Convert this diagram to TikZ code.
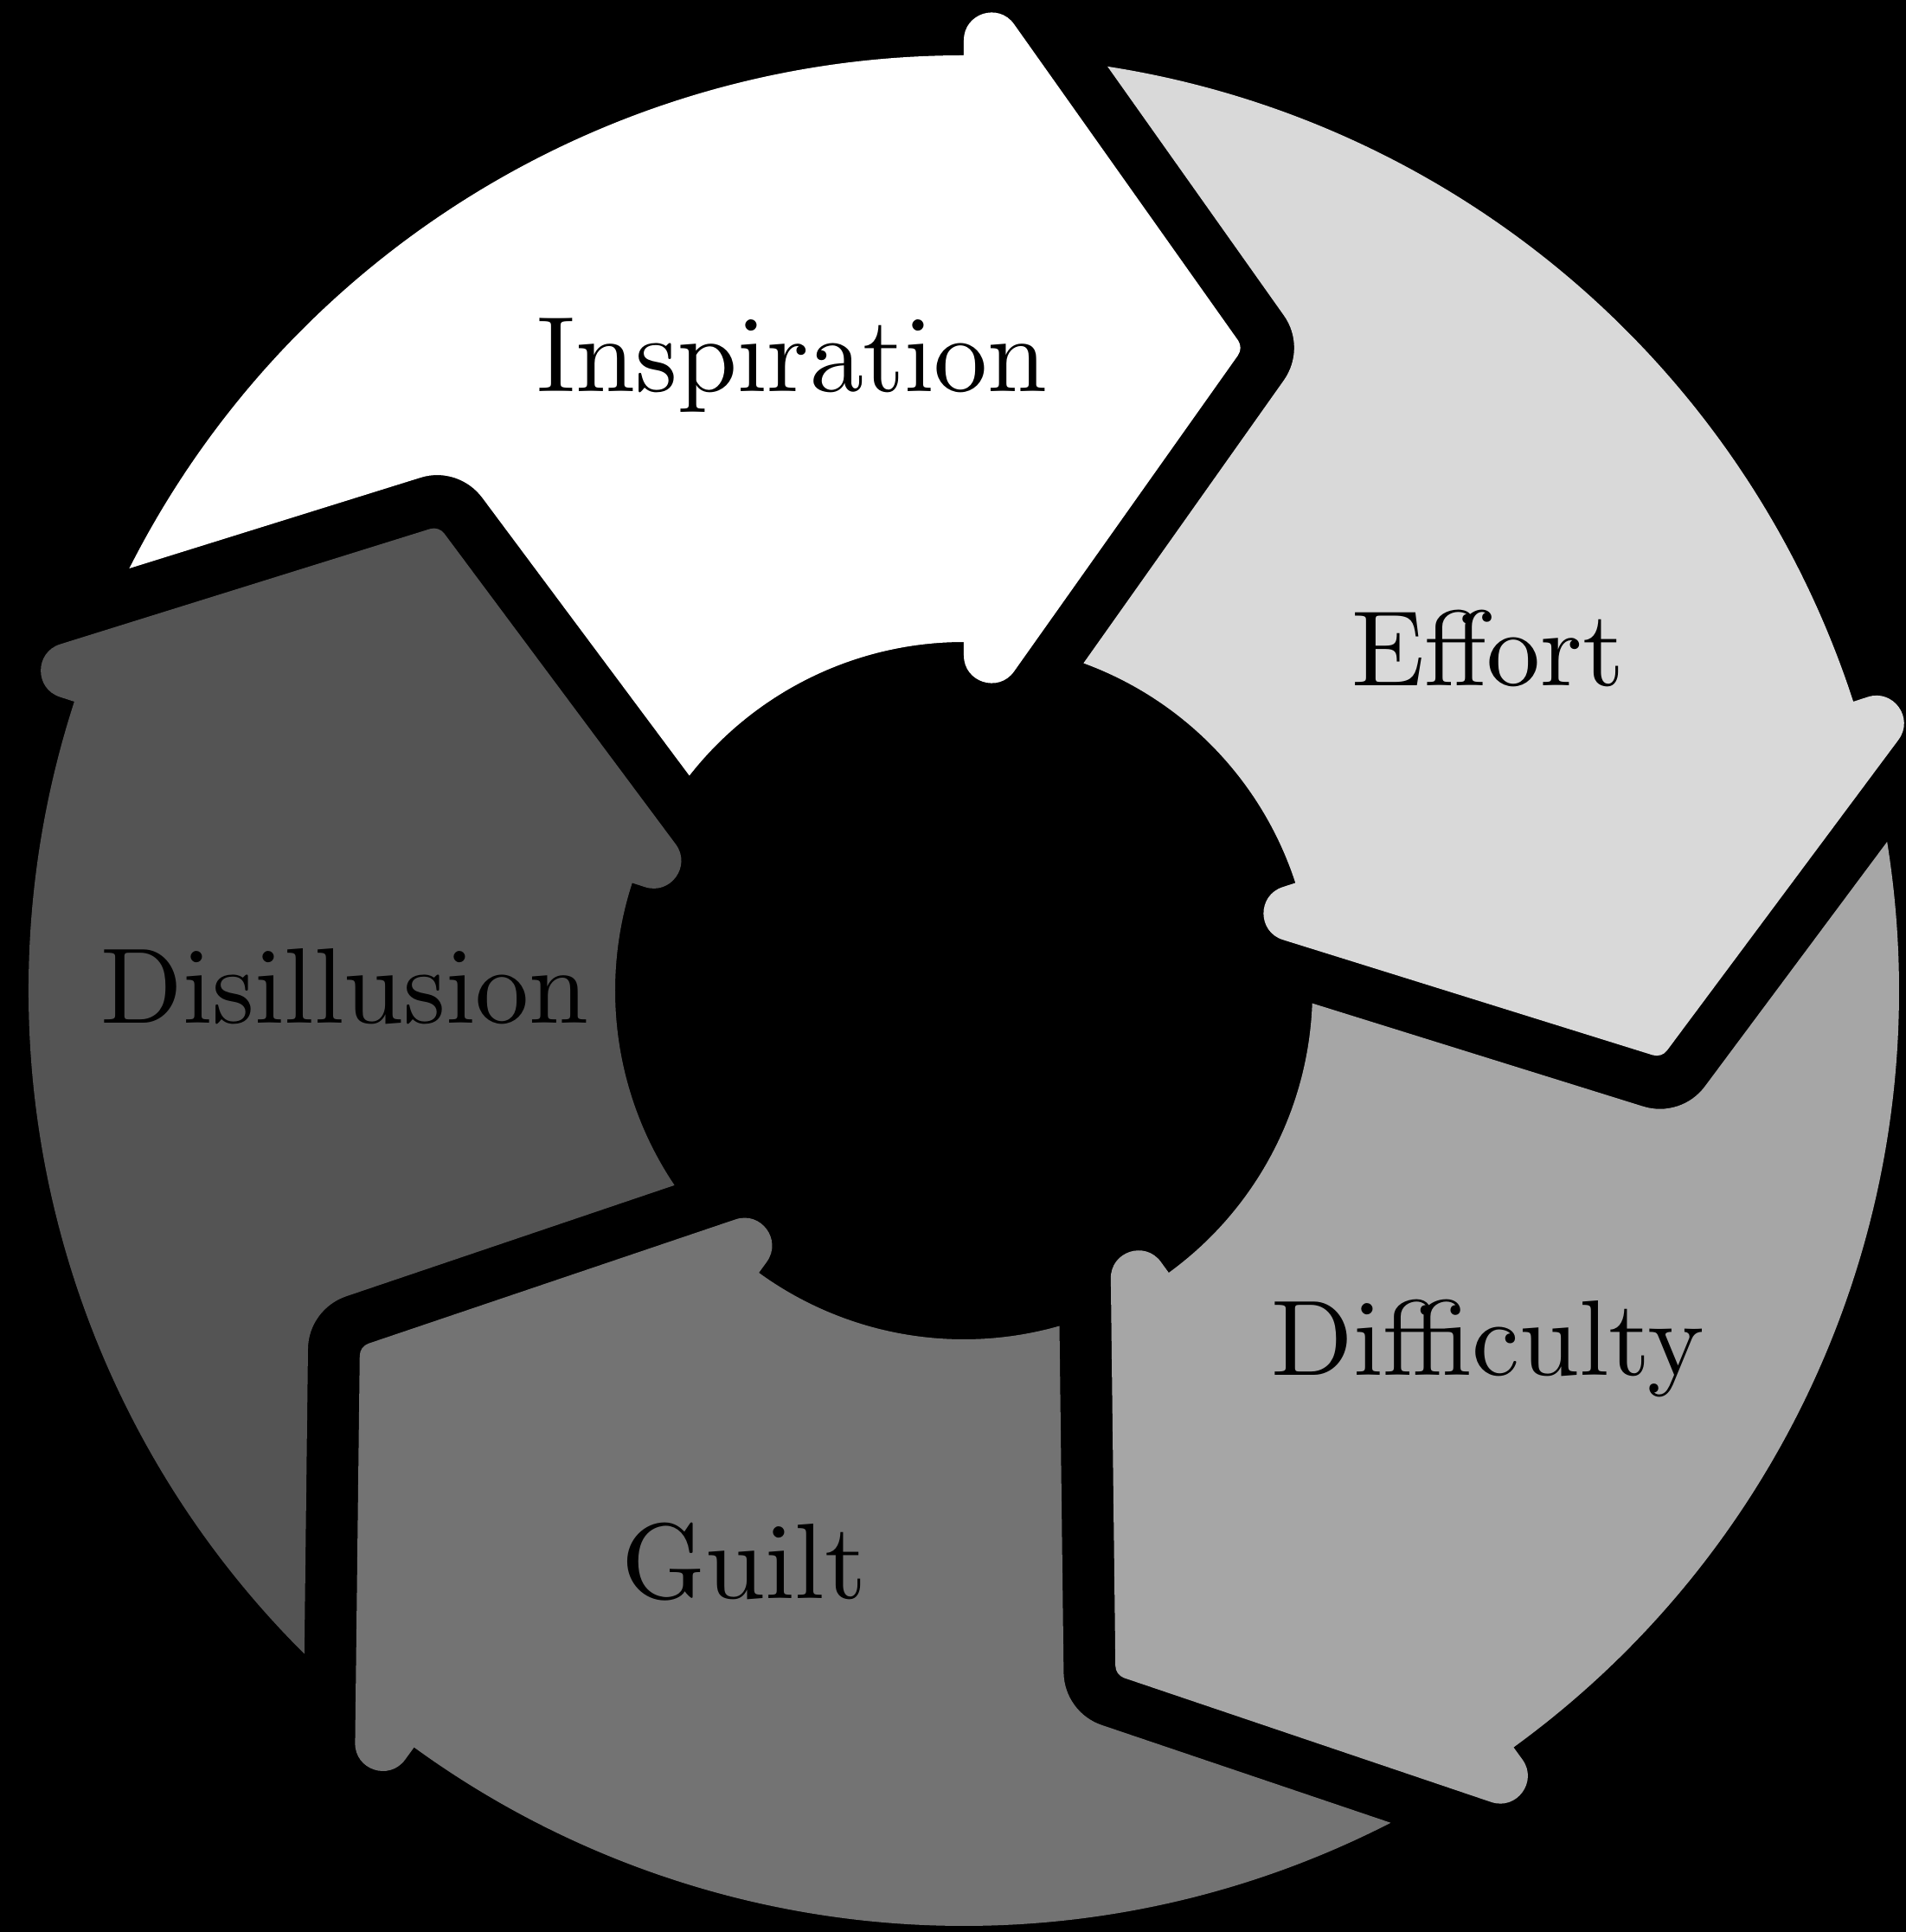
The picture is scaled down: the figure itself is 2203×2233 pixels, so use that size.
\documentclass[tikz,border=0pt]{standalone}
\definecolor{cInsp}{HTML}{FFFFFF}
\definecolor{cEff}{HTML}{D9D9D9}
\definecolor{cDif}{HTML}{A6A6A6}
\definecolor{cGui}{HTML}{737373}
\definecolor{cDis}{HTML}{545454}
\font\lblfont=cmr10 at 124pt
\tikzset{
  lbl/.style={anchor=base, inner sep=0pt, text=black, font=\lblfont},
}
% one arrow segment, head back edge on the +y axis, tail notch at 162 degrees
\newcommand{\mysegpath}{%
 (153.16:1081) arc[start angle=153.16, end angle=90, radius=1081]
 -- (0,1098.5) .. controls (0,1129.7) and (40.1,1142.5) .. (58.1,1117.0)
 -- (316.9,751.7) .. controls (320.6,746.5) and (320.6,739.5) .. (316.9,734.3)
 -- (58.1,369.0) .. controls (40.1,343.5) and (0,356.3) .. (0,387.5)
 -- (0,403) arc[start angle=90, end angle=141.92, radius=403]
 -- (134.33:796.6) .. controls (134.08:823.9) and (135.02:850.6) .. (136.64:863.7)
 -- cycle}
\begin{document}
\begin{tikzpicture}[x=1pt,y=1pt]
\fill[black] (-1114,-1088) rectangle (1089,1145);
\useasboundingbox (-1114,-1088) rectangle (1089,1145);
\fill[cInsp] \mysegpath;
\begin{scope}[rotate=-72]\fill[cEff] \mysegpath;\end{scope}
\begin{scope}[rotate=-144]\fill[cDif] \mysegpath;\end{scope}
\begin{scope}[rotate=-216]\fill[cGui] \mysegpath;\end{scope}
\begin{scope}[rotate=-288]\fill[cDis] \mysegpath;\end{scope}
\node[lbl] (tInsp) at (-198,692) {Inspiration};
\node[lbl] (tEff) at (606,352) {Effort};
\node[lbl] (tDif) at (606,-444) {Difficulty};
\node[lbl] (tGui) at (-254,-702) {Guilt};
\node[lbl] (tDis) at (-715,-37) {Disillusion};
\end{tikzpicture}
\end{document}
